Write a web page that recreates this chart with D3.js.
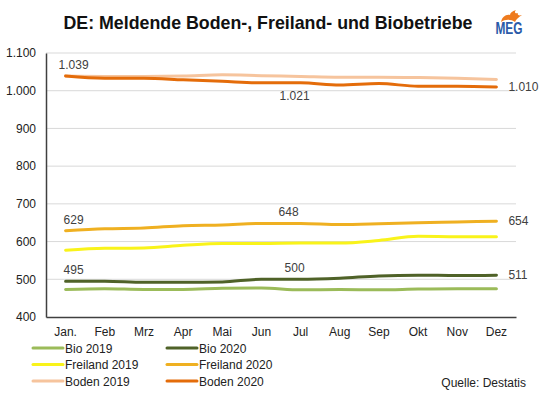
<!DOCTYPE html>
<html>
<head>
<meta charset="utf-8">
<script src="https://cdn.jsdelivr.net/npm/d3@7"></script>
<style>
  body { margin: 0; background: #fff; }
  svg { display: block; font-family: Arial, "Liberation Sans", sans-serif; }
</style>
</head>
<body>
<svg id="chart" width="540" height="396"></svg>
<script>
const months = ['Jan.', 'Feb', 'Mrz', 'Apr', 'Mai', 'Jun', 'Jul', 'Aug', 'Sep', 'Okt', 'Nov', 'Dez']
const yTicks = [400, 500, 600, 700, 800, 900, 1000, 1100]

const bio2019 = [473, 475, 473, 473, 476, 477, 472, 473, 472, 474, 475, 475]
const bio2020 = [495, 495, 492, 492, 493, 500, 500, 503, 509, 511, 510, 511]
const freiland2019 = [577, 582, 583, 590, 595, 595, 596, 596, 603, 614, 613, 613]
const freiland2020 = [629, 634, 636, 642, 644, 648, 648, 645, 647, 650, 652, 654]
const boden2019 = [1039, 1038, 1038, 1039, 1042, 1040, 1038, 1036, 1036, 1035, 1033, 1030]
const boden2020 = [1039, 1033, 1033, 1029, 1025, 1021, 1021, 1015, 1019, 1012, 1012, 1010]

const seriesNames = ['Bio 2019', 'Bio 2020', 'Freiland 2019', 'Freiland 2020', 'Boden 2019', 'Boden 2020']
const seriesValues = [bio2019, bio2020, freiland2019, freiland2020, boden2019, boden2020]
const seriesColors = ['#9bbb59', '#4f6228', '#f9f31a', '#efb021', '#f6c49d', '#e46c0a']

// labelled points: [series index, month index, where]
const labelled = [
  [5, 0, 'above'], [5, 6, 'below'], [5, 11, 'right'],
  [3, 0, 'above'], [3, 6, 'above'], [3, 11, 'right'],
  [1, 0, 'above'], [1, 6, 'above'], [1, 11, 'right']
]

const de = d3.formatLocale({ decimal: ',', thousands: '.', grouping: [3], currency: ['', ' €'] })
const fmt = de.format(',d')

const svg = d3.select('#chart')
const margin = { left: 46, right: 24, top: 53, bottom: 78 }
const width = 540
const height = 396

const x = d3.scaleBand().domain(months).range([margin.left, width - margin.right])
const y = d3.scaleLinear().domain([400, 1100]).range([height - margin.bottom - 1, margin.top])
const cx = m => x(m) + x.bandwidth() / 2

// title
svg.append('text')
  .attr('x', 268).attr('y', 29)
  .attr('text-anchor', 'middle')
  .style('font-size', '17.8px').style('font-weight', 'bold').style('fill', '#111')
  .text('DE: Meldende Boden-, Freiland- und Biobetriebe')

// logo
const logo = svg.append('g').attr('transform', 'translate(494,9)')
logo.append('path')
  .attr('d', 'M7 13 C8 8 12 5 16 6 C16 4 18 2 22 1 C20 3 21 5 24 4 C23 6 25 7 28 6 C25 8 22 10 21 13 C17 10 11 10 7 13 Z')
  .style('fill', '#ee7b1e')
logo.append('text')
  .attr('x', 15).attr('y', 25)
  .attr('text-anchor', 'middle')
  .attr('transform', 'translate(15,25) scale(0.85,1.15) translate(-15,-25)')
  .style('font-size', '14px').style('font-weight', 'bold').style('fill', '#2a5aa8')
  .text('MEG')

// grid
svg.append('g')
  .selectAll('line')
  .data(yTicks.slice(1))
  .join('line')
  .attr('x1', margin.left).attr('x2', width - margin.right)
  .attr('y1', d => y(d)).attr('y2', d => y(d))
  .style('stroke', '#d9d9d9').style('stroke-width', 1)

// y axis
const yAxis = svg.append('g')
  .attr('transform', `translate(${margin.left},0)`)
  .call(d3.axisLeft(y).tickValues(yTicks).tickFormat(fmt).tickSize(0).tickPadding(10))
yAxis.select('.domain').style('stroke', '#404040').style('stroke-width', 1.5)
yAxis.selectAll('text').style('font-size', '12px').style('fill', '#222')

// x axis
const xAxis = svg.append('g')
  .attr('transform', `translate(0,${y(400)})`)
  .call(d3.axisBottom(x).tickSize(0).tickPadding(10))
xAxis.select('.domain').style('stroke', '#404040').style('stroke-width', 1.5)
xAxis.selectAll('text').style('font-size', '12px').style('fill', '#222')

// lines
const line = d3.line()
  .x((d, i) => cx(months[i]))
  .y(d => y(d))
  .curve(d3.curveMonotoneX)

svg.append('g')
  .selectAll('path')
  .data(seriesValues)
  .join('path')
  .attr('d', d => line(d))
  .style('fill', 'none')
  .style('stroke', (d, i) => seriesColors[i])
  .style('stroke-width', 3)
  .style('stroke-linecap', 'round')
  .style('stroke-linejoin', 'round')

// data labels
svg.append('g')
  .selectAll('text')
  .data(labelled)
  .join('text')
  .attr('x', d => {
    const px = cx(months[d[1]])
    if (d[2] === 'right') return px + 12
    if (d[1] === 0) return px + 8
    if (d[0] === 3) return px - 12
    return px - 6
  })
  .attr('y', d => {
    const py = y(seriesValues[d[0]][d[1]])
    if (d[2] === 'above') return py - 7
    if (d[2] === 'below') return py + 17
    return py + 4
  })
  .attr('text-anchor', d => d[2] === 'right' ? 'start' : 'middle')
  .style('font-size', '12px').style('fill', '#404040')
  .text(d => fmt(seriesValues[d[0]][d[1]]))

// legend
const legend = svg.append('g')
  .selectAll('g')
  .data(seriesNames)
  .join('g')
  .attr('transform', (d, i) => `translate(${i % 2 === 0 ? 33 : 167},${348 + Math.floor(i / 2) * 16.5})`)

legend.append('line')
  .attr('x1', 0).attr('x2', 30)
  .style('stroke', (d, i) => seriesColors[i])
  .style('stroke-width', 3)
  .style('stroke-linecap', 'round')

legend.append('text')
  .attr('x', 32).attr('y', 4.5)
  .style('font-size', '12px').style('fill', '#222')
  .text(d => d)

// source
svg.append('text')
  .attr('x', 526).attr('y', 387)
  .attr('text-anchor', 'end')
  .style('font-size', '12px').style('fill', '#222')
  .text('Quelle: Destatis')
</script>
</body>
</html>
